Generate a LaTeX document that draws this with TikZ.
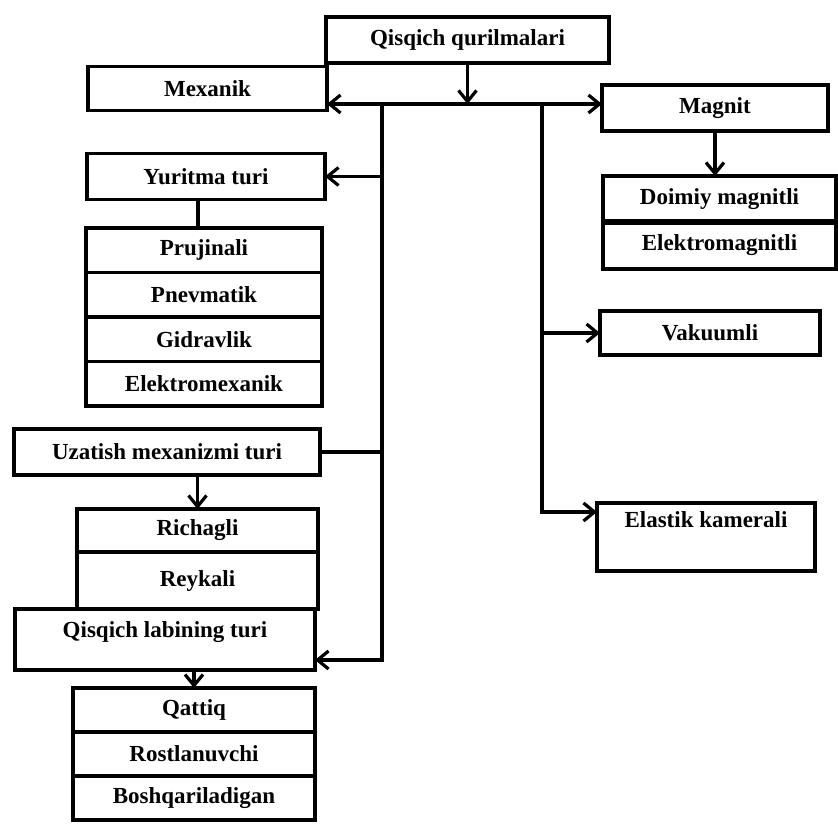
\documentclass[tikz,border=0pt]{standalone}
\usepackage{fontspec}
\setmainfont{Liberation Serif}
\usepackage{tikz}
\usetikzlibrary{arrows.meta, positioning}

\begin{document}
\begin{tikzpicture}[x=1pt, y=-1pt,
	box/.style={draw, line width=3.2pt, outer sep=0pt, inner sep=2pt, fill=white, font=\fontsize{23}{27}\selectfont\bfseries},
	link/.style={line width=3.2pt},
	tip/.style={link, -{Straight Barb[length=11pt, width=18pt]}},
	twotip/.style={link, {Straight Barb[length=11pt, width=18pt]}-{Straight Barb[length=11pt, width=18pt]}}]
	\useasboundingbox (0, 0) rectangle (838, 824);
	\coordinate (busL) at (382, 104);
	\coordinate (busR) at (542, 104);
	\coordinate (busLend) at (382, 660);
	\coordinate (busRend) at (542, 512);

	\node[box, minimum width=283pt, minimum height=46pt] (title) at (467.5, 40) {Qisqich qurilmalari};
	\node[box, minimum width=239pt, minimum height=44pt] (mex) at (207.5, 88.5) {Mexanik};
	\node[box, minimum width=226pt, minimum height=46pt] (magnit) at (715, 108) {Magnit};

	% mexanik side
	\node[box, minimum width=238pt, minimum height=46pt] (yur) at (206, 176.5) {Yuritma turi};
	\node[box, minimum width=236pt, minimum height=44.5pt] (pruj) at (204, 250.25) {Prujinali};
	\node[box, minimum width=236pt, minimum height=44.5pt, below=0pt of pruj] (pnev) {Pnevmatik};
	\node[box, minimum width=236pt, minimum height=44.5pt, below=0pt of pnev] (gidr) {Gidravlik};
	\node[box, minimum width=236pt, minimum height=44.5pt, below=0pt of gidr] (elmex) {Elektromexanik};
	\node[box, minimum width=306pt, minimum height=46pt] (uzat) at (167, 452) {Uzatish mexanizmi turi};
	\node[box, minimum width=241pt, minimum height=43pt] (rich) at (197.5, 530.5) {Richagli};
	\node[box, minimum width=241pt, minimum height=57pt, below=0pt of rich] (reyk) {Reykali};
	\node[box, minimum width=300pt, text height=26.5pt, text depth=30.5pt] (lab) at (165, 639.5) {Qisqich labining turi};
	\node[box, minimum width=242pt, minimum height=44pt] (qat) at (194, 710) {Qattiq};
	\node[box, minimum width=242pt, minimum height=44pt, below=0pt of qat] (rost) {Rostlanuvchi};
	\node[box, minimum width=242pt, minimum height=44pt, below=0pt of rost] (bosh) {Boshqariladigan};

	% magnit side
	\node[box, minimum width=233pt, minimum height=46pt] (doim) at (719.5, 199) {Doimiy magnitli};
	\node[box, minimum width=233pt, minimum height=47pt, below=0pt of doim] (elmag) {Elektromagnitli};
	\draw[line width=6pt] (doim.south west) -- (doim.south east);
	\node[box, minimum width=220pt, minimum height=44pt] (vak) at (710, 333) {Vakuumli};
	\node[box, minimum width=218pt, text height=22.5pt, text depth=41.5pt] (elas) at (706, 537) {Elastik kamerali};

	\draw[tip] (title.south) -- (title.south |- busL);
	\draw[twotip] (mex.east |- busL) -- (magnit.west |- busL);
	\draw[tip] (busL) -- (busLend) -- (lab.east |- busLend);
	\draw[tip] (busL |- yur.east) -- (yur.east);
	\draw[link] (uzat.east) -- (busL |- uzat.east);
	\draw[tip] (busR) -- (busRend) -- (elas.west |- busRend);
	\draw[tip] (busR |- vak.west) -- (vak.west);
	\draw[tip] (magnit.south) -- (magnit.south |- doim.north);
	\draw[link] ([xshift=-6pt]pruj.north) -- ([xshift=-6pt]pruj.north |- yur.south);
	\draw[tip] (rich.north |- uzat.south) -- (rich.north);
	\draw[tip] (qat.north |- lab.south) -- (qat.north);
\end{tikzpicture}
\end{document}
